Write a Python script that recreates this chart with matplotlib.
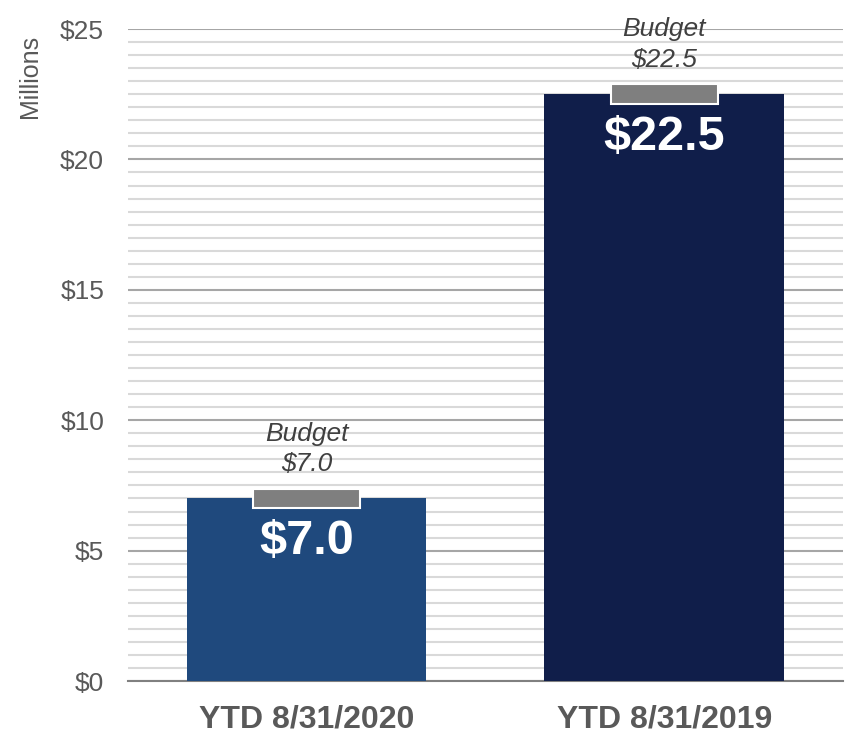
import matplotlib.pyplot as plt
from matplotlib.ticker import MultipleLocator

""" DATA """
categories = ['YTD 8/31/2020', 'YTD 8/31/2019']
actual = [7.0, 22.5]
budget = [7.0, 22.5]
bar_colors = ['#1F497D', '#101E4A']
y_ticks = [0, 5, 10, 15, 20, 25]
y_tick_labels = ['$0', '$5', '$10', '$15', '$20', '$25']

plt.rcParams['font.family'] = ['Liberation Sans', 'DejaVu Sans']

fig = plt.figure(figsize=(8.46, 7.33), dpi=100)
ax = fig.add_axes([0.151, 0.0709, 0.8455, 0.8895])

x = list(range(len(categories)))

# barres principales
ax.bar(x, actual, width=0.67, color=bar_colors, zorder=3)

# marqueur du budget (petit rectangle gris)
marker_h = 0.75
ax.bar(x, [marker_h] * len(budget), bottom=[b - marker_h / 2 for b in budget],
       width=0.3, color='#7F7F7F', edgecolor='white', linewidth=1.5, zorder=4)

for i in x:
    ax.annotate(f'Budget\n${budget[i]:.1f}', xy=(i, budget[i]), xytext=(0, 16),
                textcoords='offset points', ha='center', va='bottom',
                fontsize=19, style='italic', color='#404040', linespacing=1.35,
                annotation_clip=False)
    ax.annotate(f'${actual[i]:.1f}', xy=(i, actual[i]), xytext=(0, -31),
                textcoords='offset points', ha='center', va='center',
                fontsize=35, fontweight='bold', color='white', zorder=5)

ax.set_xlim(-0.5, 1.5)
ax.set_ylim(0, 25)
ax.set_yticks(y_ticks)
ax.set_yticklabels(y_tick_labels)
ax.yaxis.set_minor_locator(MultipleLocator(0.5))
ax.set_xticks(x)
ax.set_xticklabels(categories, fontsize=23, fontweight='bold', color='#595959')

ax.grid(axis='y', which='minor', color='#D9D9D9', linewidth=1.5, zorder=0)
ax.grid(axis='y', which='major', color='#A6A6A6', linewidth=1.5, zorder=1)
ax.set_axisbelow(True)

for s in ['top', 'right', 'left']:
    ax.spines[s].set_visible(False)
ax.spines['bottom'].set_color('#808080')
ax.spines['bottom'].set_linewidth(1.5)

ax.tick_params(axis='y', which='both', length=0, labelsize=19, labelcolor='#595959', pad=17)
ax.tick_params(axis='x', length=0, pad=17)

ax.set_ylabel('Millions', fontsize=18, color='#595959')
ax.yaxis.set_label_coords(-0.12, 0.928)

fig.savefig('out.png', dpi=100)
